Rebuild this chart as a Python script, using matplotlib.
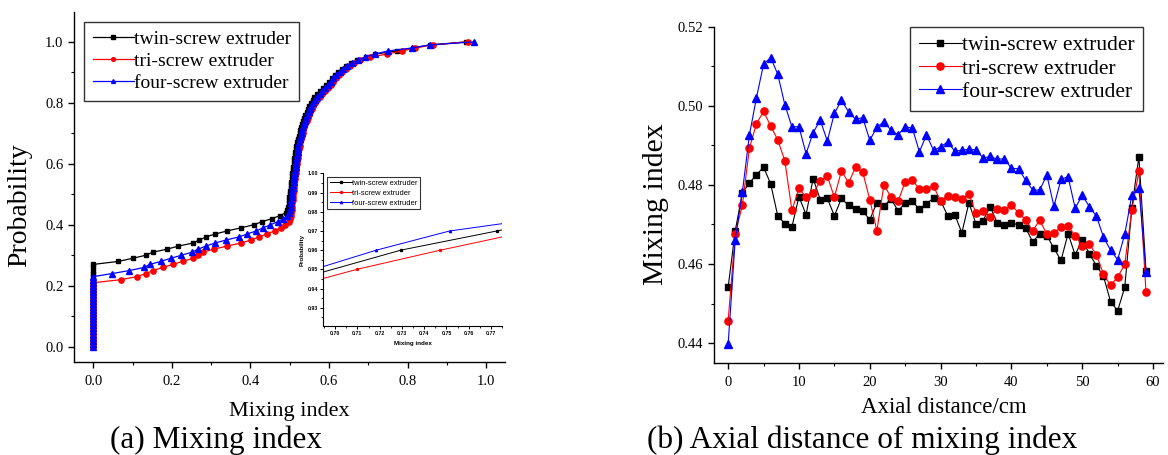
import numpy as np
import matplotlib.pyplot as plt
from matplotlib.ticker import MultipleLocator, FormatStrFormatter

plt.rcParams['font.family'] = ['Liberation Serif', 'DejaVu Serif']

#----------------------------------------------------------
# (a) sorted mixing index samples of each extruder (CDF)
#----------------------------------------------------------
twin_mi = [0.0] * 28 + [
    0.064, 0.100, 0.133, 0.151, 0.188, 0.216, 0.253, 0.270, 0.286, 0.311,
    0.341, 0.376, 0.408, 0.429, 0.454, 0.475, 0.490,
    0.494, 0.496, 0.497, 0.498, 0.499, 0.500, 0.501, 0.502, 0.503, 0.504,
    0.505, 0.506, 0.507, 0.508, 0.509, 0.510, 0.511, 0.512, 0.513, 0.514,
    0.516, 0.517, 0.519, 0.521, 0.523, 0.525, 0.527, 0.529, 0.531, 0.534,
    0.537, 0.540, 0.543, 0.546, 0.550, 0.554, 0.558, 0.563,
    0.570, 0.578, 0.585, 0.592, 0.600, 0.607, 0.615, 0.624, 0.633, 0.643,
    0.655, 0.670, 0.694, 0.717, 0.773, 0.813, 0.857, 0.949]
tri_mi = [0.0] * 22 + [
    0.0705, 0.111, 0.134, 0.152, 0.177, 0.202, 0.228, 0.253, 0.266, 0.280,
    0.306, 0.340, 0.375, 0.401, 0.422, 0.441, 0.462, 0.477, 0.488, 0.497,
    0.501,
    0.503, 0.504, 0.505, 0.506, 0.507, 0.508, 0.509, 0.509, 0.510, 0.511,
    0.511, 0.512, 0.513, 0.514, 0.515, 0.516, 0.517, 0.518, 0.519, 0.520,
    0.521, 0.522, 0.524, 0.525, 0.527, 0.529, 0.531, 0.533, 0.535, 0.537,
    0.540, 0.543, 0.546, 0.549, 0.552, 0.556, 0.560, 0.565, 0.570, 0.576,
    0.583, 0.590, 0.597, 0.604, 0.611, 0.618, 0.626, 0.634, 0.643, 0.653,
    0.664, 0.678, 0.705, 0.747, 0.785, 0.819, 0.864, 0.953]
four_mi = [0.0] * 24 + [
    0.0475, 0.092, 0.129, 0.144, 0.172, 0.197, 0.224, 0.251, 0.267, 0.286,
    0.309, 0.338, 0.370, 0.392, 0.415, 0.432, 0.451, 0.469, 0.484, 0.494,
    0.499,
    0.501, 0.502, 0.503, 0.504, 0.505, 0.506, 0.507, 0.508, 0.509, 0.510,
    0.511, 0.512, 0.513, 0.514, 0.515, 0.516, 0.517, 0.518, 0.519, 0.520,
    0.521, 0.522, 0.524, 0.526, 0.528, 0.530, 0.532, 0.534, 0.536, 0.539,
    0.542, 0.545, 0.548, 0.551, 0.555, 0.559, 0.564, 0.569,
    0.576, 0.583, 0.590, 0.597, 0.604, 0.611, 0.619, 0.627, 0.636, 0.646,
    0.658, 0.673, 0.692, 0.717, 0.749, 0.811, 0.856, 0.969]

# zoomed detail of the upper part of the CDF
inset_twin_x = [0.690, 0.7295, 0.7727, 0.780]
inset_twin_y = [0.9471, 0.9600, 0.9700, 0.9717]
inset_tri_x = [0.690, 0.7097, 0.7473, 0.780]
inset_tri_y = [0.9438, 0.9500, 0.9600, 0.9681]
inset_four_x = [0.690, 0.7185, 0.7515, 0.780]
inset_four_y = [0.9498, 0.9600, 0.9700, 0.9746]

#----------------------------------------------------------
# (b) mixing index along the axial distance
#----------------------------------------------------------
axial_cm = np.arange(0, 60)
twin_axial = [
    0.4542, 0.4684, 0.4780, 0.4805, 0.4826, 0.4845, 0.4803, 0.4722, 0.4702, 0.4694,
    0.4770, 0.4725, 0.4816, 0.4763, 0.4766, 0.4722, 0.4766, 0.4748, 0.4738, 0.4734,
    0.4712, 0.4755, 0.4747, 0.4765, 0.4734, 0.4755, 0.4759, 0.4738, 0.4753, 0.4766,
    0.4760, 0.4722, 0.4725, 0.4679, 0.4755, 0.4701, 0.4710, 0.4745, 0.4704, 0.4698,
    0.4704, 0.4699, 0.4692, 0.4656, 0.4677, 0.4672, 0.4640, 0.4609, 0.4677, 0.4623,
    0.4662, 0.4626, 0.4596, 0.4569, 0.4505, 0.4482, 0.4541, 0.4742, 0.4871, 0.4583]
tri_axial = [
    0.4457, 0.4677, 0.4748, 0.4893, 0.4955, 0.4986, 0.4949, 0.4914, 0.4861, 0.4736,
    0.4791, 0.4769, 0.4779, 0.4810, 0.4822, 0.4769, 0.4836, 0.4805, 0.4845, 0.4832,
    0.4763, 0.4684, 0.4800, 0.4769, 0.4759, 0.4808, 0.4813, 0.4789, 0.4789, 0.4797,
    0.4759, 0.4772, 0.4769, 0.4765, 0.4777, 0.4728, 0.4735, 0.4720, 0.4739, 0.4737,
    0.4748, 0.4730, 0.4711, 0.4684, 0.4711, 0.4675, 0.4679, 0.4693, 0.4695, 0.4672,
    0.4646, 0.4650, 0.4624, 0.4574, 0.4546, 0.4567, 0.4599, 0.4736, 0.4834, 0.4529]
four_axial = [
    0.4398, 0.4662, 0.4781, 0.4926, 0.5021, 0.5105, 0.5122, 0.5080, 0.5003, 0.4947,
    0.4947, 0.4879, 0.4932, 0.4964, 0.4911, 0.4981, 0.5014, 0.4985, 0.4966, 0.4970,
    0.4913, 0.4946, 0.4960, 0.4938, 0.4927, 0.4947, 0.4944, 0.4884, 0.4926, 0.4888,
    0.4896, 0.4909, 0.4885, 0.4888, 0.4890, 0.4889, 0.4868, 0.4872, 0.4865, 0.4866,
    0.4842, 0.4841, 0.4812, 0.4787, 0.4787, 0.4825, 0.4746, 0.4814, 0.4821, 0.4741,
    0.4774, 0.4745, 0.4721, 0.4668, 0.4635, 0.4611, 0.4675, 0.4774, 0.4793, 0.4580]

labels = ['twin-screw extruder', 'tri-screw extruder', 'four-screw extruder']


def ecdf(samples):
    x = np.sort(np.asarray(samples))
    p = np.arange(len(x)) / (len(x) - 1)
    return x, p


def style_axes(ax, size, major_len=4.2, minor_len=2.4, pad=3.5):
    ax.spines['top'].set_visible(False)
    ax.spines['right'].set_visible(False)
    for s in ('left', 'bottom'):
        ax.spines[s].set_linewidth(1.0)
    ax.tick_params(which='major', direction='out', length=major_len, width=1.0,
                   labelsize=size, pad=pad)
    ax.tick_params(which='minor', direction='out', length=minor_len, width=0.8)


fig = plt.figure(figsize=(11.68, 4.55), dpi=100)

#----------------------------------------------------------
# left panel
#----------------------------------------------------------
ax1 = fig.add_axes([0.0634, 0.2051, 0.3690, 0.7692])
ax1.plot(*ecdf(twin_mi), '-s', color='black', ms=3.4, lw=0.9, label=labels[0])
ax1.plot(*ecdf(tri_mi), '-o', color='red', ms=3.8, lw=0.9, label=labels[1])
ax1.plot(*ecdf(four_mi), '-^', color='blue', ms=4.0, lw=0.9, label=labels[2])
ax1.set_xlim(-0.049, 1.048)
ax1.set_ylim(-0.049, 1.099)
ax1.xaxis.set_major_locator(MultipleLocator(0.2))
ax1.xaxis.set_minor_locator(MultipleLocator(0.1))
ax1.yaxis.set_major_locator(MultipleLocator(0.2))
ax1.yaxis.set_minor_locator(MultipleLocator(0.1))
ax1.xaxis.set_major_formatter(FormatStrFormatter('%.1f'))
ax1.yaxis.set_major_formatter(FormatStrFormatter('%.1f'))
style_axes(ax1, 10.5)
ax1.tick_params(axis='x', pad=5.5)
leg1 = ax1.legend(loc='upper left', bbox_to_anchor=(0.023, 0.971), borderaxespad=0,
                  fontsize=14, handlelength=2.1, handletextpad=0.0, numpoints=1,
                  markerscale=0.7, labelspacing=0.22, fancybox=False, borderpad=0.45)
leg1.get_frame().set_edgecolor('black')
leg1.get_frame().set_linewidth(1.0)

# inset
ins = fig.add_axes([0.2765, 0.2835, 0.1533, 0.3355])
ins.plot(inset_twin_x, inset_twin_y, '-s', color='black', ms=1.4, lw=0.7,
         markevery=[1, 2], label=labels[0])
ins.plot(inset_tri_x, inset_tri_y, '-o', color='red', ms=1.4, lw=0.7,
         markevery=[1, 2], label=labels[1])
ins.plot(inset_four_x, inset_four_y, '-^', color='blue', ms=1.6, lw=0.7,
         markevery=[1, 2], label=labels[2])
ins.set_xlim(0.6945, 0.775)
ins.set_ylim(0.9205, 1.0)
ins.xaxis.set_major_locator(MultipleLocator(0.01))
ins.xaxis.set_minor_locator(MultipleLocator(0.005))
ins.yaxis.set_major_locator(MultipleLocator(0.01))
ins.yaxis.set_minor_locator(MultipleLocator(0.005))
ins.xaxis.set_major_formatter(FormatStrFormatter('%.2f'))
ins.yaxis.set_major_formatter(FormatStrFormatter('%.2f'))
ins.spines['top'].set_visible(False)
ins.spines['right'].set_visible(False)
ins.tick_params(which='major', direction='out', length=2.0, width=0.7,
                labelsize=3.8, pad=1.5)
ins.tick_params(which='minor', direction='out', length=1.2, width=0.6)
for t in ins.get_xticklabels() + ins.get_yticklabels():
    t.set_family(['Liberation Sans', 'DejaVu Sans'])
    t.set_fontweight('bold')
ins.set_xlabel('Mixing index', family=['Liberation Sans', 'DejaVu Sans'],
               fontsize=4.5, fontweight='bold', labelpad=4)
ins.set_ylabel('Probability', family=['Liberation Sans', 'DejaVu Sans'],
               fontsize=4.5, fontweight='bold', labelpad=2)
leg_in = ins.legend(loc='upper left', bbox_to_anchor=(0.022, 0.976), borderaxespad=0,
                    prop={'family': ['Liberation Sans', 'DejaVu Sans'], 'size': 5.4},
                    handlelength=3.0, handletextpad=0.0, numpoints=1,
                    labelspacing=0.35, fancybox=False, borderpad=0.35)
leg_in.get_frame().set_edgecolor('black')
leg_in.get_frame().set_linewidth(0.8)

#----------------------------------------------------------
# right panel
#----------------------------------------------------------
ax2 = fig.add_axes([0.6113, 0.2015, 0.3844, 0.7398])
ax2.plot(axial_cm, twin_axial, '-s', color='black', ms=5.0, lw=0.8, label=labels[0])
ax2.plot(axial_cm, tri_axial, '-o', color='red', ms=5.2, lw=0.8, label=labels[1])
ax2.plot(axial_cm, four_axial, '-^', color='blue', ms=5.8, lw=0.8, label=labels[2])
ax2.set_xlim(-2.0, 61.4)
ax2.set_ylim(0.4349, 0.52)
ax2.xaxis.set_major_locator(MultipleLocator(10))
ax2.xaxis.set_minor_locator(MultipleLocator(5))
ax2.yaxis.set_major_locator(MultipleLocator(0.02))
ax2.yaxis.set_minor_locator(MultipleLocator(0.01))
ax2.yaxis.set_major_formatter(FormatStrFormatter('%.2f'))
style_axes(ax2, 10.5)
ax2.tick_params(axis='x', pad=5)
leg2 = ax2.legend(loc='upper left', bbox_to_anchor=(0.4365, 1.0), borderaxespad=0,
                  fontsize=15.5, handlelength=2.0, handletextpad=0.0, numpoints=1,
                  labelspacing=0.15, fancybox=False, borderpad=0.4)
leg2.get_frame().set_edgecolor('black')
leg2.get_frame().set_linewidth(1.0)

#----------------------------------------------------------
# axis titles and captions
#----------------------------------------------------------
W, H = 1168.0, 455.0
fig.text(20 / W, 1 - 205 / H, 'Probability', rotation=90, ha='center', va='center',
         fontsize=20)
fig.text(289 / W, 1 - 416 / H, 'Mixing index', ha='center', va='baseline', fontsize=16)
fig.text(216 / W, 1 - 448 / H, '(a) Mixing index', ha='center', va='baseline',
         fontsize=22.5)
fig.text(656 / W, 1 - 204 / H, 'Mixing index', rotation=90, ha='center', va='center',
         fontsize=21.5)
fig.text(944 / W, 1 - 413 / H, 'Axial distance/cm', ha='center', va='baseline',
         fontsize=16.5)
fig.text(862 / W, 1 - 448 / H, '(b) Axial distance of mixing index', ha='center',
         va='baseline', fontsize=22.5)

plt.savefig('out.png', dpi=100)
